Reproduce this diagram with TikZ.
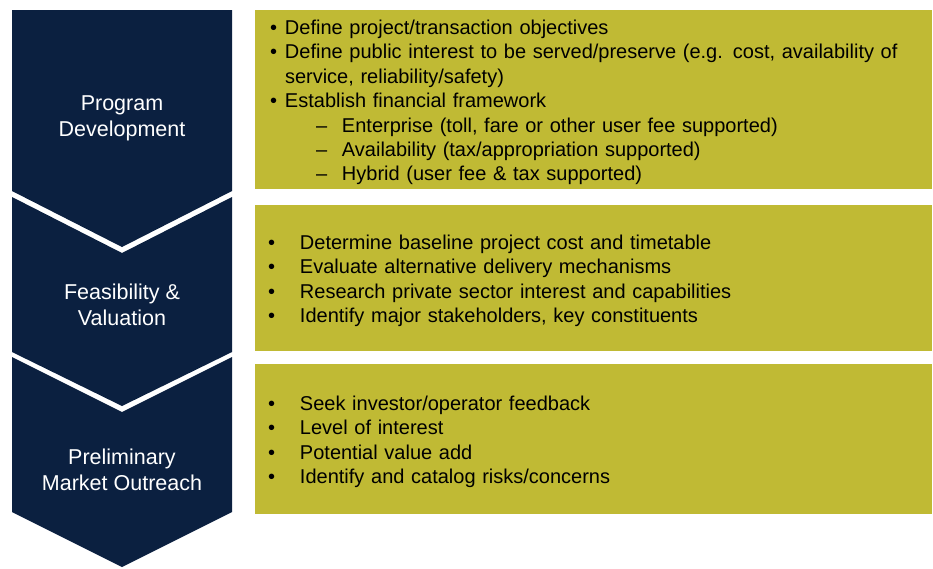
\documentclass[tikz,border=0pt]{standalone}
\usepackage{fontspec}
\setmainfont{Liberation Sans}
\usepackage{tikz}
\usetikzlibrary{calc}

\definecolor{navy}{RGB}{11,32,64}
\definecolor{olive}{RGB}{192,186,52}

\newcommand{\bul}[2]{\makebox[#1][l]{\textbullet}#2}
\newcommand{\subbul}[1]{\hspace*{46pt}\makebox[26pt][l]{--}#1}
\newcommand{\topgap}{\rule{0pt}{20.5pt}}

\begin{document}
\begin{tikzpicture}[x=1pt,y=-1pt,inner sep=0pt,outer sep=0pt,
    every node/.style={font=\fontsize{20}{24.4}\selectfont},
    stage/.style={text=white,align=center,font=\fontsize{21.5}{26}\selectfont},
    notes/.style={fill=olive,anchor=north west,minimum width=677pt,align=left,text=black}]
    \useasboundingbox (0,0) rectangle (933,568);

    % chevrons
    \fill[navy] (12,10) -- (232,10) -- (232,191) -- (122,247) -- (12,191) -- cycle;
    \fill[navy] (12,197) -- (122,253) -- (232,197) -- (232,352) -- (122,406) -- (12,352) -- cycle;
    \fill[navy] (12,357) -- (122,412) -- (232,357) -- (232,512) -- (122,567) -- (12,512) -- cycle;

    \node[stage] (prog) at (122,118.5) {Program\\Development};
    \node[stage] (feas) at (122,304.5) {Feasibility \&\\Valuation};
    \node[stage] (prelim) at (122,469.5) {Preliminary\\Market Outreach};

    % program development
    \node[notes, minimum height=179pt, text width=647pt, inner xsep=15pt] (prog_notes) at (255,10)
    {
    \topgap\bul{15pt}{Define project/transaction objectives}\\
    \bul{15pt}{Define public interest to be served/preserve (e.g. cost, availability of}\\
    \hspace*{15pt}service, reliability/safety)\\
    \bul{15pt}{Establish financial framework}\\
    \subbul{Enterprise (toll, fare or other user fee supported)}\\
    \subbul{Availability (tax/appropriation supported)}\\
    \subbul{Hybrid (user fee \& tax supported)}
    };

    % feasibility
    \node[notes, minimum height=146pt, text width=651pt, inner xsep=13pt] (feas_notes) at (255,205)
    {
    \topgap\bul{32pt}{Determine baseline project cost and timetable}\\
    \bul{32pt}{Evaluate alternative delivery mechanisms}\\
    \bul{32pt}{Research private sector interest and capabilities}\\
    \bul{32pt}{Identify major stakeholders, key constituents}
    };

    % market outreach
    \node[notes, minimum height=150pt, text width=651pt, inner xsep=13pt] (prelim_notes) at (255,364)
    {
    \topgap\bul{32pt}{Seek investor/operator feedback}\\
    \bul{32pt}{Level of interest}\\
    \bul{32pt}{Potential value add}\\
    \bul{32pt}{Identify and catalog risks/concerns}
    };

\end{tikzpicture}
\end{document}
